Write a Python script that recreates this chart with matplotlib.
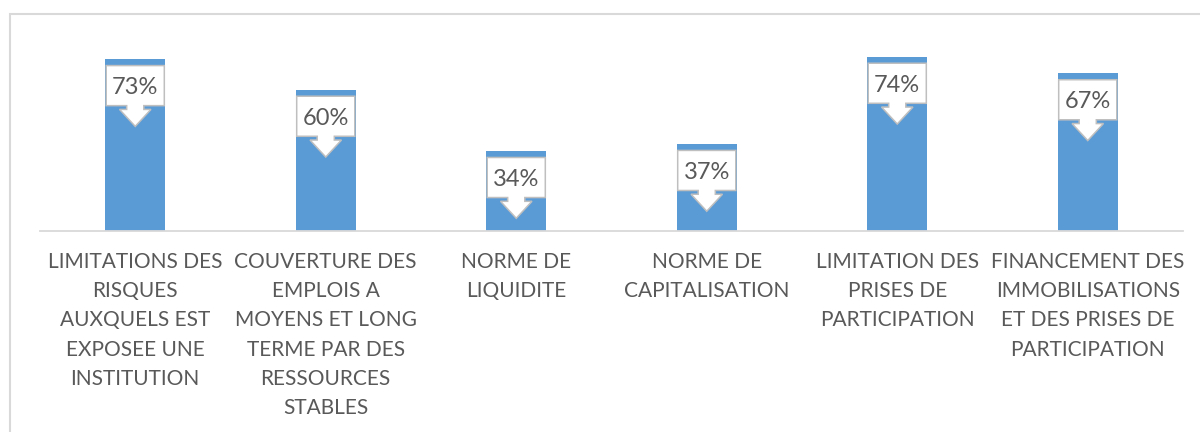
import matplotlib
matplotlib.use("Agg")
import matplotlib.pyplot as plt
from matplotlib.patches import Polygon, Rectangle

categories = [
    "LIMITATIONS DES\nRISQUES\nAUXQUELS EST\nEXPOSEE UNE\nINSTITUTION",
    "COUVERTURE DES\nEMPLOIS A\nMOYENS ET LONG\nTERME PAR DES\nRESSOURCES\nSTABLES",
    "NORME DE\nLIQUIDITE",
    "NORME DE\nCAPITALISATION",
    "LIMITATION DES\nPRISES DE\nPARTICIPATION",
    "FINANCEMENT DES\nIMMOBILISATIONS\nET DES PRISES DE\nPARTICIPATION",
]
values = [73, 60, 34, 37, 74, 67]
value_labels = ["73%", "60%", "34%", "37%", "74%", "67%"]

BAR = "#5b9bd5"
TXT = "#595959"
GRID = "#d9d9d9"
FONT = "Lato"

fig = plt.figure(figsize=(12, 4.32), dpi=100)
fig.patches.append(Rectangle((10 / 1200, -0.05), 1.2, 0.05 + 1 - 14 / 432,
                             transform=fig.transFigure, fill=False,
                             edgecolor=GRID, linewidth=1.5, zorder=0))
ax = fig.add_axes([40 / 1200, 201 / 432, 1143 / 1200, 188.5 / 432])

x = list(range(len(values)))
bar_w = 0.315
ax.bar(x, values, width=bar_w, color=BAR, zorder=2)
ax.set_xlim(-0.5, len(values) - 0.5)
ax.set_ylim(0, 80)

# callout shapes (geometry in data units relative to each value)
box_w = 0.305
gap, box_h, shaft_h, head_h = 2.8, 17.0, 1.6, 7.2
shaft_w, head_w = 0.09, 0.165
for xi, v, lab in zip(x, values, value_labels):
    top = v - gap
    bb = top - box_h
    sb = bb - shaft_h
    tip = sb - head_h
    verts = [
        (xi - box_w / 2, top), (xi + box_w / 2, top), (xi + box_w / 2, bb),
        (xi + shaft_w / 2, bb), (xi + shaft_w / 2, sb), (xi + head_w / 2, sb),
        (xi, tip), (xi - head_w / 2, sb), (xi - shaft_w / 2, sb),
        (xi - shaft_w / 2, bb), (xi - box_w / 2, bb),
    ]
    ax.add_patch(Polygon(verts, closed=True, facecolor="white",
                         edgecolor="#bfbfbf", linewidth=1.1, zorder=3,
                         joinstyle="miter"))
    ax.text(xi, (top + bb) / 2 - 0.9, lab, ha="center", va="center",
            fontsize=17, color=TXT, family=FONT, zorder=4)

for s in ["top", "right", "left"]:
    ax.spines[s].set_visible(False)
ax.spines["bottom"].set_color(GRID)
ax.spines["bottom"].set_linewidth(1.3)
ax.set_yticks([])
ax.set_xticks(x)
ax.set_xticklabels(categories, fontsize=15, color=TXT, family=FONT,
                   linespacing=1.58)
ax.tick_params(axis="x", length=0, pad=15)
ax.set_facecolor("none")

fig.savefig("out.png", dpi=100, facecolor="white")
